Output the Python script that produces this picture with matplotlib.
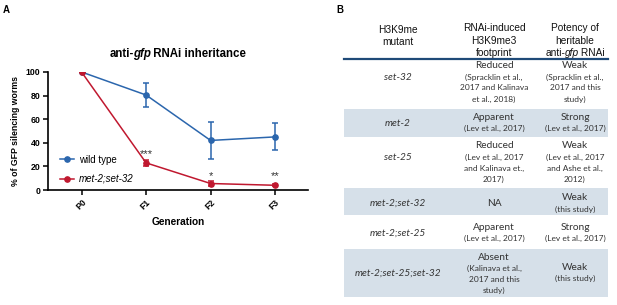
import matplotlib
matplotlib.use("Agg")
import matplotlib.pyplot as plt
from matplotlib.patches import Rectangle
from matplotlib.lines import Line2D

W, H = 617, 305

# ---------------- data ----------------
generations = ["P0", "F1", "F2", "F3"]
wt_mean = [100, 80.5, 42, 45]
wt_err = [0, 10.5, 16, 11.5]
mut_mean = [100, 23, 5.5, 4]
mut_err = [0, 2.8, 2.0, 0.8]
stars = ["", "***", "*", "**"]
star_y = [None, 30.5, 11.5, 11.5]

header = ["H3K9me\nmutant", "RNAi-induced\nH3K9me3\nfootprint", None]
mutants = ["set-32", "met-2", "set-25", "met-2;set-32", "met-2;set-25", "met-2;set-25;set-32"]
footprint_main = ["Reduced", "Apparent", "Reduced", "NA", "Apparent", "Absent"]
footprint_ref = ["(Spracklin et al.,\n2017 and Kalinava\net al., 2018)", "(Lev et al., 2017)",
                 "(Lev et al., 2017\nand Kalinava et.,\n2017)", "", "(Lev et al., 2017)",
                 "(Kalinava et al.,\n2017 and this\nstudy)"]
potency_main = ["Weak", "Strong", "Weak", "Weak", "Strong", "Weak"]
potency_ref = ["(Spracklin et al.,\n2017 and this\nstudy)", "(Lev et al., 2017)",
               "(Lev et al., 2017\nand Ashe et al.,\n2012)", "(this study)", "(Lev et al., 2017)",
               "(this study)"]

BLUE = "#2b66ad"
RED = "#c0182f"
BOLD = "Liberation Sans"

fig = plt.figure(figsize=(W / 100, H / 100), dpi=100)
renderer = fig.canvas.get_renderer()


def fx(x):
    return x / W


def fy(y):
    return 1 - y / H


def rich(x, y, parts, kern=0.0, va="center", **kw):
    """parts: list of (text, style); draw side by side, centred at pixel x."""
    arts, widths = [], []
    for s, st in parts:
        t = fig.text(0, 0, s, style=st, va=va, ha="left", **kw)
        widths.append(t.get_window_extent(renderer).width)
        arts.append(t)
    total = sum(widths) - kern * (len(parts) - 1)
    x0 = x - total / 2
    for t, w in zip(arts, widths):
        t.set_position((fx(x0), fy(y)))
        x0 += w - kern


# ---------------- panel A ----------------
fig.text(fx(3), fy(10), "A", fontsize=7, fontweight="bold", family=BOLD, va="center")

ax = fig.add_axes([fx(48), fy(190), fx(308) - fx(48), fy(72) - fy(190)])
xs = list(range(len(generations)))
ax.errorbar(xs, wt_mean, yerr=wt_err, color=BLUE, marker="o", ms=3.8, lw=1.1,
            capsize=2.2, elinewidth=1.1, capthick=1.1, zorder=3)
ax.errorbar(xs, mut_mean, yerr=mut_err, color=RED, marker="o", ms=3.8, lw=1.1,
            capsize=2.2, elinewidth=1.1, capthick=1.1, zorder=4)
for x, s, yy in zip(xs, stars, star_y):
    if s:
        ax.text(x, yy, s, ha="center", va="center", fontsize=8, color="#333333", family=BOLD)

ax.set_xlim(-0.52, 3.51)
ax.set_ylim(0, 100)
ax.set_yticks([0, 20, 40, 60, 80, 100])
ax.set_xticks(xs)
ax.set_xticklabels(generations, rotation=45, ha="right", rotation_mode="anchor")
for lab in ax.get_xticklabels() + ax.get_yticklabels():
    lab.set_fontsize(6.3)
    lab.set_fontweight("bold")
    lab.set_family(BOLD)
ax.tick_params(axis="both", length=3.5, width=1.1, pad=2, color="black")
for sp in ["top", "right"]:
    ax.spines[sp].set_visible(False)
for sp in ["left", "bottom"]:
    ax.spines[sp].set_linewidth(1.2)
ax.set_ylabel("% of GFP silencing worms", fontsize=6.3, fontweight="bold", family=BOLD, labelpad=4)
ax.set_xlabel("Generation", fontsize=7.3, fontweight="bold", family=BOLD, labelpad=4)
ax.patch.set_alpha(0)

handles = [Line2D([], [], color=BLUE, marker="o", ms=3.8, lw=1.1),
           Line2D([], [], color=RED, marker="o", ms=3.8, lw=1.1)]
leg = ax.legend(handles, ["wild type", "met-2;set-32"], loc="upper left",
                bbox_to_anchor=(fx(51), fy(146)), bbox_transform=fig.transFigure,
                frameon=False, fontsize=7, handlelength=1.5, handletextpad=0.5, labelspacing=0.95)
for t in leg.get_texts():
    t.set_family(BOLD)
leg.get_texts()[1].set_style("italic")

rich(178, 54, [("anti-", "normal"), ("gfp", "italic"), (" RNAi inheritance", "normal")],
     kern=0.8, fontsize=8.3, fontweight="bold", family=BOLD)

# ---------------- panel B ----------------
fig.text(fx(336), fy(10), "B", fontsize=7, fontweight="bold", family=BOLD, va="center")

TL, TR = 344, 608
row_bounds = [(60, 109), (109, 137), (137, 188), (188, 215), (215, 249), (249, 297)]
shade = [False, True, False, True, False, True]
SHADE = "#d6e0e9"
for (y0, y1), s in zip(row_bounds, shade):
    if s:
        fig.patches.append(Rectangle((fx(TL), fy(y1)), fx(TR) - fx(TL), fy(y0) - fy(y1),
                                     transform=fig.transFigure, facecolor=SHADE, edgecolor="none"))
fig.lines.append(Line2D([fx(TL), fx(TR)], [fy(58.5), fy(58.5)], transform=fig.transFigure,
                        color="#1f4a78", lw=1.6))

C1, C2, C3 = 398, 494, 575
HC = "#111111"
TXT = "#333333"
TF = "Lato"
HS = 7.3
fig.text(fx(C1), fy(30), "H3K9me", ha="center", va="center", fontsize=HS, family=BOLD, color=HC)
fig.text(fx(C1), fy(42), "mutant", ha="center", va="center", fontsize=HS, family=BOLD, color=HC)
for j, line in enumerate(header[1].split("\n")):
    fig.text(fx(C2), fy(28 + 12.5 * j), line, ha="center", va="center", fontsize=HS,
             family=BOLD, color=HC)
fig.text(fx(C3), fy(28), "Potency of", ha="center", va="center", fontsize=HS, family=BOLD, color=HC)
fig.text(fx(C3), fy(40.5), "heritable", ha="center", va="center", fontsize=HS, family=BOLD, color=HC)
rich(C3, 53, [("anti-", "normal"), ("gfp", "italic"), (" RNAi", "normal")],
     kern=0.5, fontsize=HS, family=BOLD, color=HC)

# per-row text placement (pixel y)
col1_y = [77, 123, 158, 203, 233, 273]
fp_main_y = [66, 117, 146, 203, 227, 257]
pt_main_y = [66, 117, 146, 198, 227, 267]
LS = 11
for i in range(len(mutants)):
    fig.text(fx(C1), fy(col1_y[i]), mutants[i], ha="center", va="center", fontsize=7.3,
             family=TF, style="italic", color=TXT)
    fig.text(fx(C2), fy(fp_main_y[i]), footprint_main[i], ha="center", va="center",
             fontsize=7.3, family=TF, color=TXT)
    for j, line in enumerate(footprint_ref[i].split("\n") if footprint_ref[i] else []):
        fig.text(fx(C2), fy(fp_main_y[i] + LS * (j + 1)), line, ha="center", va="center",
                 fontsize=6.0, family=TF, color=TXT)
    fig.text(fx(C3), fy(pt_main_y[i]), potency_main[i], ha="center", va="center",
             fontsize=7.3, family=TF, color=TXT)
    for j, line in enumerate(potency_ref[i].split("\n")):
        fig.text(fx(C3), fy(pt_main_y[i] + LS * (j + 1)), line, ha="center", va="center",
                 fontsize=6.0, family=TF, color=TXT)

fig.savefig("out.png", dpi=100)
